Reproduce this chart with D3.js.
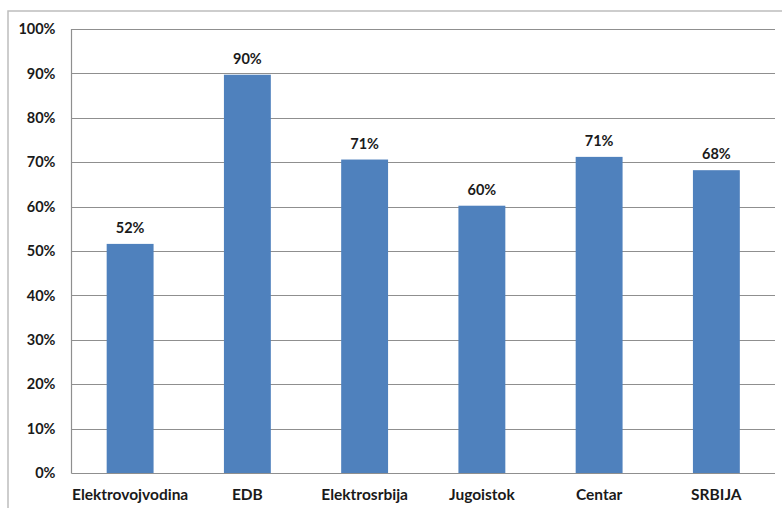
<!DOCTYPE html>
<html>
<head>
<meta charset="utf-8">
<script src="https://cdn.jsdelivr.net/npm/d3@7"></script>
<style>
  html, body { margin: 0; padding: 0; background: #fff; }
  svg { display: block; }
  text { font-family: "Lato", "Open Sans", sans-serif; fill: #1a1a1a; }
</style>
</head>
<body>
<svg id="chart" width="782" height="508"></svg>
<script>
// Distribution areas and their shares
const categories = ["Elektrovojvodina", "EDB", "Elektrosrbija", "Jugoistok", "Centar", "SRBIJA"];
const values = [0.516, 0.897, 0.706, 0.602, 0.712, 0.682];
const yTicks = [0, 0.1, 0.2, 0.3, 0.4, 0.5, 0.6, 0.7, 0.8, 0.9, 1.0];

const svg = d3.select("#chart");
const W = 782, H = 508;
const plot = { left: 71.5, right: 775, top: 29, bottom: 473 };

// outer chart frame (runs off the right and bottom edges)
svg.append("rect")
  .attr("x", 8).attr("y", 11)
  .attr("width", W + 10).attr("height", H + 10)
  .attr("fill", "#fff")
  .attr("stroke", "#bdbdbd")
  .attr("stroke-width", 1.5);

const x = d3.scaleBand()
  .domain(categories)
  .range([plot.left, plot.right])
  .padding(0);

const y = d3.scaleLinear()
  .domain([0, 1])
  .range([plot.bottom, plot.top]);

const pct = d3.format(".0%");

// horizontal gridlines
svg.append("g")
  .selectAll("line")
  .data(yTicks)
  .join("line")
  .attr("x1", plot.left)
  .attr("x2", plot.right)
  .attr("y1", d => Math.round(y(d)) + 0.5)
  .attr("y2", d => Math.round(y(d)) + 0.5)
  .attr("stroke", "#8f8f8f")
  .attr("stroke-width", 1.2);

// y axis
const yAxis = d3.axisLeft(y)
  .tickValues(yTicks)
  .tickFormat(pct)
  .tickSize(0)
  .tickPadding(16);

const gy = svg.append("g")
  .attr("transform", `translate(${plot.left},0)`)
  .call(yAxis);
gy.select(".domain").remove();
gy.selectAll("text")
  .attr("font-size", 14.5)
  .attr("font-weight", "bold")
  .attr("fill", "#1a1a1a")
  .style("font-family", "Lato, sans-serif");

// left axis line
svg.append("line")
  .attr("x1", plot.left).attr("x2", plot.left)
  .attr("y1", plot.top).attr("y2", plot.bottom + 0.5)
  .attr("stroke", "#8f8f8f")
  .attr("stroke-width", 1.2);

// bars
const barW = x.bandwidth() * 0.4;
svg.append("g")
  .selectAll("rect")
  .data(categories)
  .join("rect")
  .attr("x", d => x(d) + (x.bandwidth() - barW) / 2)
  .attr("y", (d, i) => y(values[i]))
  .attr("width", barW)
  .attr("height", (d, i) => y(0) - y(values[i]))
  .attr("fill", "#4f81bd");

// value labels
svg.append("g")
  .selectAll("text")
  .data(categories)
  .join("text")
  .attr("x", d => x(d) + x.bandwidth() / 2)
  .attr("y", (d, i) => y(values[i]) - 11)
  .attr("text-anchor", "middle")
  .attr("font-size", 14.5)
  .attr("font-weight", "bold")
  .text((d, i) => pct(values[i]));

// x axis
const xAxis = d3.axisBottom(x).tickSize(0).tickPadding(16);
const gx = svg.append("g")
  .attr("transform", `translate(0,${plot.bottom})`)
  .call(xAxis);
gx.select(".domain").remove();
gx.selectAll("text")
  .attr("font-size", 15.5)
  .attr("font-weight", "bold")
  .attr("fill", "#1a1a1a")
  .style("font-family", "Lato, sans-serif");
</script>
</body>
</html>
